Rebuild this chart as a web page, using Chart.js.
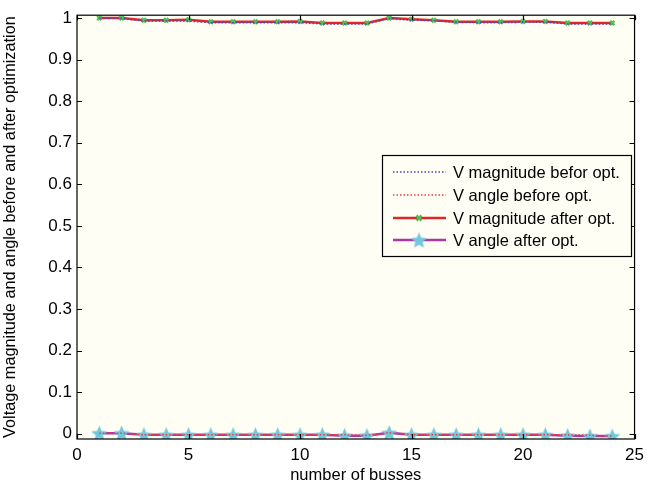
<!DOCTYPE html>
<html>
<head>
<meta charset="utf-8">
<script src="https://cdn.jsdelivr.net/npm/chart.js@4.4.0/dist/chart.umd.min.js"></script>
<style>
  html, body { margin: 0; padding: 0; background: #ffffff; }
  #wrap { width: 650px; height: 485px; }
</style>
</head>
<body>
<div id="wrap"><canvas id="busChart" width="650" height="485"></canvas></div>
<script>
// bus numbers 1..24
const busses = [1,2,3,4,5,6,7,8,9,10,11,12,13,14,15,16,17,18,19,20,21,22,23,24];

// voltage magnitude (p.u.) before / after optimization
const vMagBefore = [1.000,0.999,0.993,0.993,0.993,0.989,0.989,0.989,0.989,0.989,0.986,0.986,0.986,0.999,0.995,0.994,0.990,0.989,0.989,0.990,0.990,0.986,0.986,0.986];
const vMagAfter  = [1.000,1.000,0.995,0.995,0.996,0.991,0.991,0.991,0.991,0.992,0.988,0.988,0.988,1.000,0.997,0.995,0.991,0.991,0.991,0.992,0.992,0.988,0.988,0.988];

// voltage angle (rad) before / after optimization
const vAngBefore = [0.001,0.001,-0.003,-0.003,-0.003,-0.003,-0.003,-0.003,-0.003,-0.003,-0.003,-0.003,-0.004,0.002,-0.003,-0.003,-0.003,-0.003,-0.003,-0.003,-0.003,-0.003,-0.004,-0.006];
const vAngAfter  = [0.001,0.001,-0.003,-0.003,-0.003,-0.003,-0.003,-0.003,-0.003,-0.003,-0.003,-0.005,-0.005,0.002,-0.003,-0.003,-0.003,-0.003,-0.003,-0.003,-0.003,-0.005,-0.006,-0.006];

const seriesLabels = ["V magnitude befor opt.", "V angle before opt.", "V magnitude after opt.", "V angle after opt."];

const xTicks = [0, 5, 10, 15, 20, 25];
const yTicks = [0, 0.1, 0.2, 0.3, 0.4, 0.5, 0.6, 0.7, 0.8, 0.9, 1];

const FONT = "'Liberation Sans', Arial, sans-serif";

// filled five-point star marker (Chart.js 'star' is only a line asterisk)
function makeStar(size, fill) {
  const c = document.createElement("canvas");
  c.width = size; c.height = size;
  const g = c.getContext("2d");
  const cx = size / 2, cy = size / 2 + 0.8;
  const ro = size / 2, ri = ro * 0.45;
  g.beginPath();
  for (let i = 0; i < 10; i++) {
    const r = i % 2 ? ri : ro;
    const a = -Math.PI / 2 + i * Math.PI / 5;
    g.lineTo(cx + r * Math.cos(a), cy + r * Math.sin(a));
  }
  g.closePath();
  g.fillStyle = fill;
  g.fill();
  return c;
}
const starImg = makeStar(17, "rgb(112,200,222)");

// plot background + box with inward ticks (matlab look)
const boxPlugin = {
  id: "box",
  beforeDraw(chart) {
    const { ctx, chartArea: a } = chart;
    ctx.save();
    ctx.fillStyle = "#fffef4";
    ctx.fillRect(a.left, a.top, a.right - a.left, a.bottom - a.top);
    ctx.restore();
  },
  afterDatasetsDraw(chart) {
    const { ctx, chartArea: a, scales } = chart;
    ctx.save();
    ctx.strokeStyle = "#000";
    ctx.lineWidth = 1.2;
    ctx.strokeRect(a.left, a.top, a.right - a.left, a.bottom - a.top);
    ctx.beginPath();
    const tl = 5;
    xTicks.forEach(v => {
      const x = Math.round(scales.x.getPixelForValue(v)) + 0.5;
      ctx.moveTo(x, a.bottom); ctx.lineTo(x, a.bottom - tl);
      ctx.moveTo(x, a.top); ctx.lineTo(x, a.top + tl);
    });
    yTicks.forEach(v => {
      const y = Math.round(scales.y.getPixelForValue(v)) + 0.5;
      ctx.moveTo(a.left, y); ctx.lineTo(a.left + tl, y);
      ctx.moveTo(a.right, y); ctx.lineTo(a.right - tl, y);
    });
    ctx.stroke();
    ctx.restore();
  },
  afterDraw(chart) {
    // legend box inside the axes
    const { ctx } = chart;
    const lx = 382, ly = 155, lw = 249, lh = 101;
    ctx.save();
    ctx.fillStyle = "#fffef4";
    ctx.fillRect(lx, ly, lw, lh);
    ctx.strokeStyle = "#000";
    ctx.lineWidth = 1.2;
    ctx.strokeRect(lx + 0.5, ly + 0.5, lw, lh);
    ctx.font = "16.5px " + FONT;
    ctx.textBaseline = "middle";
    ctx.fillStyle = "#000";
    const rows = [172, 195, 218, 240];
    chart.data.datasets.forEach((ds, i) => {
      const y = rows[i];
      ctx.save();
      ctx.strokeStyle = ds.borderColor;
      ctx.lineWidth = ds.borderWidth;
      ctx.setLineDash(ds.borderDash || []);
      ctx.beginPath();
      ctx.moveTo(393, y); ctx.lineTo(446, y);
      ctx.stroke();
      ctx.restore();
      if (ds.pointStyle === "crossRot") {
        ctx.save();
        ctx.strokeStyle = ds.pointBorderColor;
        ctx.lineWidth = ds.pointBorderWidth;
        const r = 2.5;
        ctx.beginPath();
        ctx.moveTo(419 - r, y - r); ctx.lineTo(419 + r, y + r);
        ctx.moveTo(419 + r, y - r); ctx.lineTo(419 - r, y + r);
        ctx.stroke();
        ctx.restore();
      } else if (ds.pointStyle === starImg) {
        ctx.drawImage(starImg, 419 - starImg.width / 2, y - starImg.height / 2);
      }
      ctx.fillText(ds.label, 453, y + 1);
    });
    ctx.restore();
  }
};

const ctx = document.getElementById("busChart").getContext("2d");
const busChart = new Chart(ctx, {
  type: "line",
  data: {
    labels: busses,
    datasets: [
      {
        label: seriesLabels[0],
        data: busses.map((b, i) => ({ x: b, y: vMagBefore[i] })),
        borderColor: "rgb(70,70,200)",
        borderWidth: 1.5,
        borderDash: [1.5, 2],
        pointRadius: 0,
        tension: 0,
      },
      {
        label: seriesLabels[1],
        data: busses.map((b, i) => ({ x: b, y: vAngBefore[i] })),
        borderColor: "rgb(240,60,60)",
        borderWidth: 1.5,
        borderDash: [1.5, 2],
        pointRadius: 0,
        tension: 0,
      },
      {
        label: seriesLabels[2],
        data: busses.map((b, i) => ({ x: b, y: vMagAfter[i] })),
        borderColor: "rgb(222,40,40)",
        borderWidth: 2.5,
        pointStyle: "crossRot",
        pointRadius: 3,
        pointBorderWidth: 2.5,
        pointBorderColor: "rgb(80,190,80)",
        pointBackgroundColor: "rgb(80,190,80)",
        tension: 0,
      },
      {
        label: seriesLabels[3],
        data: busses.map((b, i) => ({ x: b, y: vAngAfter[i] })),
        borderColor: "rgb(175,55,165)",
        borderWidth: 2.5,
        pointStyle: starImg,
        pointRadius: 8,
        tension: 0,
      },
    ],
  },
  options: {
    responsive: false,
    animation: false,
    events: [],
    layout: { padding: { top: 14, right: 13, left: 0, bottom: 0 } },
    plugins: {
      legend: { display: false },
      tooltip: { enabled: false },
    },
    scales: {
      x: {
        type: "linear",
        min: 0,
        max: 25,
        afterBuildTicks: s => { s.ticks = xTicks.map(v => ({ value: v })); },
        afterFit: s => { s.height = 46; },
        grid: { display: false, drawTicks: false },
        border: { display: false },
        ticks: { color: "#000", font: { family: FONT, size: 17 }, padding: 6, maxRotation: 0 },
        title: {
          display: true,
          text: "number of busses",
          color: "#000",
          font: { family: FONT, size: 16.5 },
          padding: { top: 0, bottom: 0 },
        },
      },
      y: {
        type: "linear",
        min: -0.013,
        max: 1.007,
        afterBuildTicks: s => { s.ticks = yTicks.map(v => ({ value: v })); },
        afterFit: s => { s.width = 77; },
        grid: { display: false, drawTicks: false },
        border: { display: false },
        ticks: {
          color: "#000",
          font: { family: FONT, size: 17 },
          padding: 5,
          callback: v => String(Math.round(v * 10) / 10),
        },
        title: {
          display: true,
          text: "Voltage magnitude and angle before and after optimization",
          color: "#000",
          font: { family: FONT, size: 16.3 },
          padding: { top: 1, bottom: 0 },
        },
      },
    },
  },
  plugins: [boxPlugin],
});
</script>
</body>
</html>
